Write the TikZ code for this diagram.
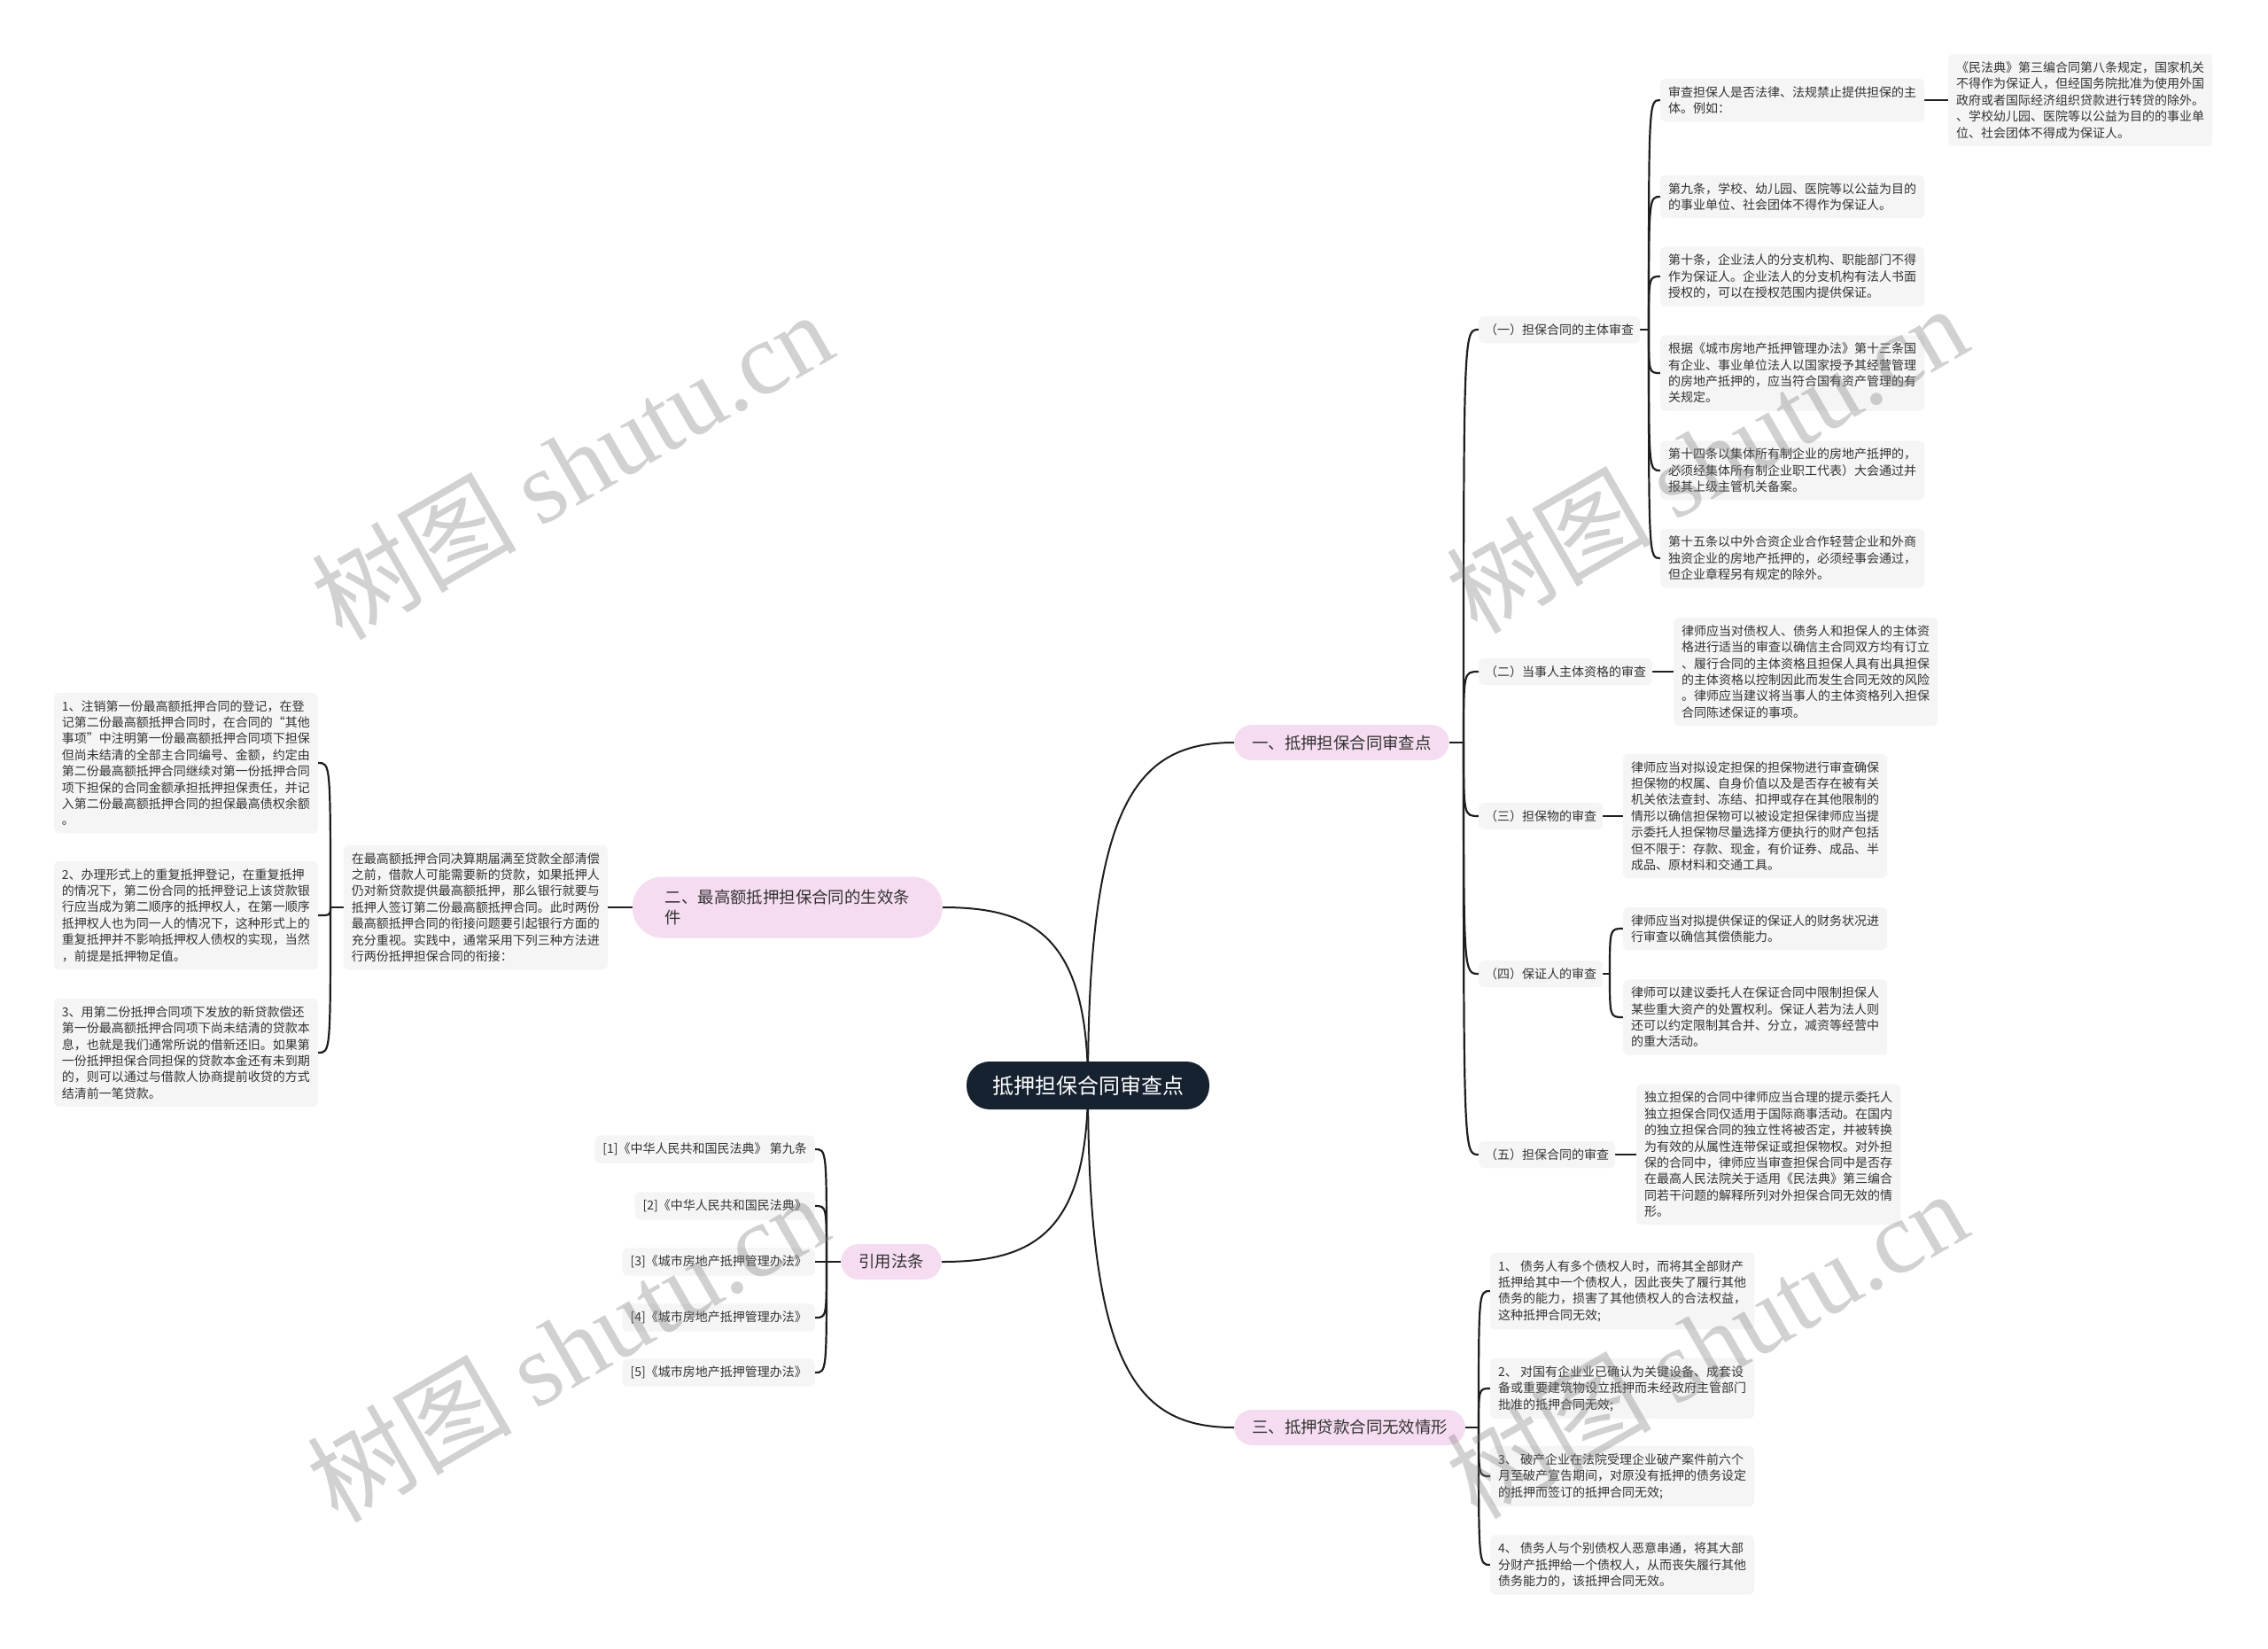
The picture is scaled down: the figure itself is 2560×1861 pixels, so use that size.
\documentclass[tikz,border=0pt]{standalone}
\usepackage{fontspec}
\setmainfont{Noto Sans CJK SC}
\newfontfamily\wmserif{Liberation Serif}
\usetikzlibrary{calc}
\pgfdeclarelayer{bg}
\pgfsetlayers{bg,main}
\definecolor{pinkfill}{HTML}{F5DCF0}
\definecolor{boxfill}{HTML}{F5F5F5}
\definecolor{rootfill}{HTML}{172231}
\definecolor{txt}{HTML}{333333}
\definecolor{linec}{HTML}{1E1E1E}
\begin{document}
\begin{tikzpicture}[x=1pt,y=-1pt,
  rootnode/.style={fill=rootfill, text=white, rounded corners=26pt, minimum width=274pt, minimum height=54pt, inner sep=0pt, font=\fontsize{24}{30}\selectfont},
  pill/.style={fill=pinkfill, text=txt, rounded corners=20pt, minimum height=40pt, inner xsep=20pt, inner ysep=0pt, font=\fontsize{18.4}{23}\selectfont},
  lbl/.style={fill=boxfill, text=txt, rounded corners=6pt, minimum height=30pt, inner xsep=7pt, inner ysep=0pt, font=\fontsize{14}{18.4}\selectfont},
  content/.style={fill=boxfill, text=txt, rounded corners=6pt, inner xsep=9pt, inner ysep=8.5pt, align=left, font=\fontsize{14}{18.4}\selectfont},
  link/.style={draw=linec, line width=2pt},
  brk/.style={draw=linec, line width=2.2pt},
  wm/.style={text=gray, opacity=0.36, rotate=30, inner sep=0pt, font=\fontsize{116}{120}\selectfont}
]
\useasboundingbox (0,0) rectangle (2560,1861);

% root and main branches
\node[rootnode] (root) at (1228,1225) {抵押担保合同审查点};
\node[pill, anchor=west] (b1) at (1393,838) {一、抵押担保合同审查点};
\node[pill, anchor=west] (b3) at (1393,1611) {三、抵押贷款合同无效情形};
\node[pill, anchor=east, align=left, minimum height=69pt, rounded corners=34pt, inner xsep=37pt] (b2) at (1064,1024) {二、最高额抵押担保合同的生效条\\件};
\node[pill, anchor=east] (b4) at (1063,1424) {引用法条};

% branch 1 labels
\node[lbl, anchor=west] (l1) at (1669,372) {（一）担保合同的主体审查};
\node[lbl, anchor=west] (l2) at (1669,758) {（二）当事人主体资格的审查};
\node[lbl, anchor=west] (l3) at (1669,921) {（三）担保物的审查};
\node[lbl, anchor=west] (l4) at (1669,1099) {（四）保证人的审查};
\node[lbl, anchor=west] (l5) at (1669,1303) {（五）担保合同的审查};

% (一) children
\node[content, anchor=west] (a1) at (1874,113) {审查担保人是否法律、法规禁止提供担保的主\\体。例如：};
\node[content, anchor=west] (a1a) at (2199,113) {《民法典》第三编合同第八条规定，国家机关\\不得作为保证人，但经国务院批准为使用外国\\政府或者国际经济组织贷款进行转贷的除外。\\、学校幼儿园、医院等以公益为目的的事业单\\位、社会团体不得成为保证人。};
\node[content, anchor=west] (a2) at (1874,222) {第九条，学校、幼儿园、医院等以公益为目的\\的事业单位、社会团体不得作为保证人。};
\node[content, anchor=west] (a3) at (1874,312) {第十条，企业法人的分支机构、职能部门不得\\作为保证人。企业法人的分支机构有法人书面\\授权的，可以在授权范围内提供保证。};
\node[content, anchor=west] (a4) at (1874,421) {根据《城市房地产抵押管理办法》第十三条国\\有企业、事业单位法人以国家授予其经营管理\\的房地产抵押的，应当符合国有资产管理的有\\关规定。};
\node[content, anchor=west] (a5) at (1874,531) {第十四条以集体所有制企业的房地产抵押的，\\必须经集体所有制企业职工代表）大会通过并\\报其上级主管机关备案。};
\node[content, anchor=west] (a6) at (1874,630) {第十五条以中外合资企业合作轻营企业和外商\\独资企业的房地产抵押的，必须经事会通过，\\但企业章程另有规定的除外。};

% (二)-(五) children
\node[content, anchor=west] (bb) at (1889,758) {律师应当对债权人、债务人和担保人的主体资\\格进行适当的审查以确信主合同双方均有订立\\、履行合同的主体资格且担保人具有出具担保\\的主体资格以控制因此而发生合同无效的风险\\。律师应当建议将当事人的主体资格列入担保\\合同陈述保证的事项。};
\node[content, anchor=west] (cc) at (1832,921) {律师应当对拟设定担保的担保物进行审查确保\\担保物的权属、自身价值以及是否存在被有关\\机关依法查封、冻结、扣押或存在其他限制的\\情形以确信担保物可以被设定担保律师应当提\\示委托人担保物尽量选择方便执行的财产包括\\但不限于：存款、现金，有价证券、成品、半\\成品、原材料和交通工具。};
\node[content, anchor=west] (d1) at (1832,1048) {律师应当对拟提供保证的保证人的财务状况进\\行审查以确信其偿债能力。};
\node[content, anchor=west] (d2) at (1832,1148) {律师可以建议委托人在保证合同中限制担保人\\某些重大资产的处置权利。保证人若为法人则\\还可以约定限制其合并、分立，减资等经营中\\的重大活动。};
\node[content, anchor=west] (ee) at (1847,1303) {独立担保的合同中律师应当合理的提示委托人\\独立担保合同仅适用于国际商事活动。在国内\\的独立担保合同的独立性将被否定，并被转换\\为有效的从属性连带保证或担保物权。对外担\\保的合同中，律师应当审查担保合同中是否存\\在最高人民法院关于适用《民法典》第三编合\\同若干问题的解释所列对外担保合同无效的情\\形。};

% branch 3 children
\node[content, anchor=west] (f1) at (1682,1457) {1、 债务人有多个债权人时，而将其全部财产\\抵押给其中一个债权人，因此丧失了履行其他\\债务的能力，损害了其他债权人的合法权益，\\这种抵押合同无效;};
\node[content, anchor=west] (f2) at (1682,1567) {2、 对国有企业业已确认为关键设备、成套设\\备或重要建筑物设立抵押而未经政府主管部门\\批准的抵押合同无效;};
\node[content, anchor=west] (f3) at (1682,1666) {3、 破产企业在法院受理企业破产案件前六个\\月至破产宣告期间，对原没有抵押的债务设定\\的抵押而签订的抵押合同无效;};
\node[content, anchor=west] (f4) at (1682,1766) {4、 债务人与个别债权人恶意串通，将其大部\\分财产抵押给一个债权人，从而丧失履行其他\\债务能力的，该抵押合同无效。};

% branch 2 children
\node[content, anchor=east] (gg) at (686,1024) {在最高额抵押合同决算期届满至贷款全部清偿\\之前，借款人可能需要新的贷款，如果抵押人\\仍对新贷款提供最高额抵押，那么银行就要与\\抵押人签订第二份最高额抵押合同。此时两份\\最高额抵押合同的衔接问题要引起银行方面的\\充分重视。实践中，通常采用下列三种方法进\\行两份抵押担保合同的衔接：};
\node[content, anchor=east] (h1) at (359,861) {1、注销第一份最高额抵押合同的登记，在登\\记第二份最高额抵押合同时，在合同的“其他\\事项”中注明第一份最高额抵押合同项下担保\\但尚未结清的全部主合同编号、金额，约定由\\第二份最高额抵押合同继续对第一份抵押合同\\项下担保的合同金额承担抵押担保责任，并记\\入第二份最高额抵押合同的担保最高债权余额\\。};
\node[content, anchor=east] (h2) at (359,1033) {2、办理形式上的重复抵押登记，在重复抵押\\的情况下，第二份合同的抵押登记上该贷款银\\行应当成为第二顺序的抵押权人，在第一顺序\\抵押权人也为同一人的情况下，这种形式上的\\重复抵押并不影响抵押权人债权的实现，当然\\，前提是抵押物足值。};
\node[content, anchor=east] (h3) at (359,1188) {3、用第二份抵押合同项下发放的新贷款偿还\\第一份最高额抵押合同项下尚未结清的贷款本\\息，也就是我们通常所说的借新还旧。如果第\\一份抵押担保合同担保的贷款本金还有未到期\\的，则可以通过与借款人协商提前收贷的方式\\结清前一笔贷款。};

% citations
\node[content, anchor=east] (c1) at (920,1297) {[1]《中华人民共和国民法典》 第九条};
\node[content, anchor=east] (c2) at (920,1361) {[2]《中华人民共和国民法典》};
\node[content, anchor=east] (c3) at (920,1424) {[3]《城市房地产抵押管理办法》};
\node[content, anchor=east] (c4) at (920,1487) {[4]《城市房地产抵押管理办法》};
\node[content, anchor=east] (c5) at (920,1549) {[5]《城市房地产抵押管理办法》};

% spine points
\coordinate (s1) at (1652,838);
\coordinate (s11) at (1861,372);
\coordinate (s14) at (1817,1099);
\coordinate (s3) at (1669,1611);
\coordinate (s2) at (373,1024);
\coordinate (s4) at (933,1424);

\begin{pgfonlayer}{bg}
  \fill[white] (0,0) rectangle (2560,1861);
  % main curves
  \draw[link] (root.center) .. controls +(0,-320) and +(-110,0) .. (b1.west);
  \draw[link] (root.center) .. controls +(0,320) and +(-110,0) .. (b3.west);
  \draw[link] (root.center) .. controls +(0,-170) and +(100,0) .. (b2.east);
  \draw[link] (root.center) .. controls +(0,170) and +(100,0) .. (b4.east);
  % branch 1
  \draw[brk] (b1.east) -- (s1);
  \foreach \c in {l1,l2,l3,l4,l5}
    \draw[brk] (s1) .. controls (s1 |- \c.west) and (s1 |- \c.west) .. (\c.west);
  \draw[brk] (l1.east) -- (s11);
  \foreach \c in {a1,a2,a3,a4,a5,a6}
    \draw[brk] (s11) .. controls (s11 |- \c.west) and (s11 |- \c.west) .. (\c.west);
  \draw[brk] (a1.east) -- (a1a.west);
  \draw[brk] (l2.east) -- (bb.west);
  \draw[brk] (l3.east) -- (cc.west);
  \draw[brk] (l4.east) -- (s14);
  \foreach \c in {d1,d2}
    \draw[brk] (s14) .. controls (s14 |- \c.west) and (s14 |- \c.west) .. (\c.west);
  \draw[brk] (l5.east) -- (ee.west);
  % branch 3
  \draw[brk] (b3.east) -- (s3);
  \foreach \c in {f1,f2,f3,f4}
    \draw[brk] (s3) .. controls (s3 |- \c.west) and (s3 |- \c.west) .. (\c.west);
  % branch 2
  \draw[brk] (b2.west) -- (gg.east);
  \draw[brk] (gg.west) -- (s2);
  \foreach \c in {h1,h2,h3}
    \draw[brk] (s2) .. controls (s2 |- \c.east) and (s2 |- \c.east) .. (\c.east);
  % citations
  \draw[brk] (b4.west) -- (s4);
  \foreach \c in {c1,c2,c3,c4,c5}
    \draw[brk] (s4) .. controls (s4 |- \c.east) and (s4 |- \c.east) .. (\c.east);
\end{pgfonlayer}

% watermarks
\node[wm] (w1) at (645,524) {树图 {\wmserif shutu.cn}};
\node[wm] (w2) at (1926,517) {树图 {\wmserif shutu.cn}};
\node[wm] (w3) at (640,1520) {树图 {\wmserif shutu.cn}};
\node[wm] (w4) at (1926,1516) {树图 {\wmserif shutu.cn}};
\end{tikzpicture}
\end{document}
